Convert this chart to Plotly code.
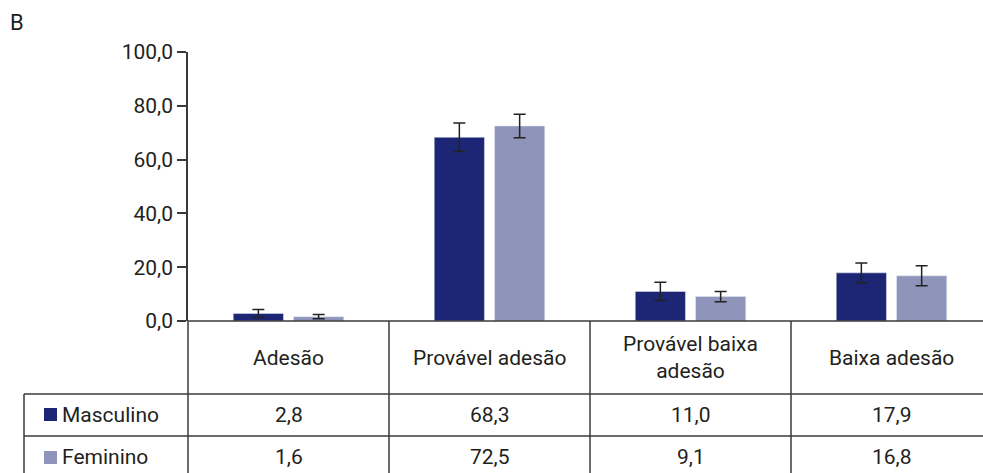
import plotly.graph_objects as go

categories = ["Adesão", "Provável adesão", "Provável baixa<br>adesão", "Baixa adesão"]
series_names = ["Masculino", "Feminino"]
masculino = [2.8, 68.3, 11.0, 17.9]
feminino = [1.6, 72.5, 9.1, 16.8]
masculino_err = [1.5, 5.3, 3.4, 3.7]
feminino_err = [0.8, 4.4, 1.9, 3.7]
y_ticks = [0, 20, 40, 60, 80, 100]

colors = ["#1c2674", "#8e94ba"]
text_color = "#231f20"
line_color = "#3a3a3a"
FONT = "Roboto"

W, H = 983, 473
ML, MR = 188, 0
MT = 52
ZERO = 321
MB = H - ZERO
plot_w = W - ML - MR
plot_h = H - MT - MB
cat_w = 201
x_range = [-0.5, -0.5 + plot_w / cat_w]


def px_x(p):
    return (p - ML) / plot_w


def px_y(p):
    return (ZERO - p) / plot_h


def xdata_to_paper(v):
    return (v - x_range[0]) / (x_range[1] - x_range[0])


fig = go.Figure()
for name, vals, errs, col in [
    (series_names[0], masculino, masculino_err, colors[0]),
    (series_names[1], feminino, feminino_err, colors[1]),
]:
    fig.add_trace(go.Bar(
        x=list(range(len(categories))), y=vals, name=name, marker_color=col,
        error_y=dict(type="data", array=errs, visible=True, color="#222222",
                     thickness=1.5, width=6),
        showlegend=False, hoverinfo="skip",
    ))

shapes = []
line = dict(color=line_color, width=1.5)
shapes.append(dict(type="line", xref="paper", yref="paper", x0=0, x1=1.02,
                   y0=0, y1=0, line=line))
for py in [394, 436]:
    shapes.append(dict(type="line", xref="paper", yref="paper", x0=px_x(24), x1=1.02,
                       y0=px_y(py), y1=px_y(py), line=line))
bottom = px_y(490)
shapes.append(dict(type="line", xref="paper", yref="paper", x0=0, x1=0,
                   y0=px_y(321), y1=bottom, line=line))
shapes.append(dict(type="line", xref="paper", yref="paper", x0=px_x(24), x1=px_x(24),
                   y0=px_y(394), y1=bottom, line=line))
for b in [0.5, 1.5, 2.5]:
    xp = xdata_to_paper(b)
    shapes.append(dict(type="line", xref="paper", yref="paper", x0=xp, x1=xp,
                       y0=px_y(321), y1=bottom, line=line))
for col, (t, b) in zip(colors, [(408, 421), (451, 464)]):
    shapes.append(dict(type="rect", xref="paper", yref="paper", x0=px_x(44), x1=px_x(57),
                       y0=px_y(b), y1=px_y(t), fillcolor=col, line=dict(width=0)))

tfont = dict(size=21, color=text_color, family=FONT)
annotations = []
for i, c in enumerate(categories):
    annotations.append(dict(x=xdata_to_paper(i), y=px_y(358), xref="paper", yref="paper",
                            xanchor="center", yanchor="middle",
                            text=c, showarrow=False, font=tfont))
for vals, py in [(masculino, 415), (feminino, 457)]:
    for i, v in enumerate(vals):
        annotations.append(dict(x=xdata_to_paper(i), y=px_y(py), xref="paper", yref="paper",
                                xanchor="center", yanchor="middle",
                                text=f"{v:.1f}".replace(".", ","), showarrow=False, font=tfont))
for name, py in zip(series_names, [415, 457]):
    annotations.append(dict(x=px_x(60), y=px_y(py), xref="paper", yref="paper",
                            xanchor="left", yanchor="middle",
                            text=name, showarrow=False, font=tfont))
annotations.append(dict(x=px_x(8), y=px_y(22), xref="paper", yref="paper",
                        xanchor="left", yanchor="middle",
                        text="B", showarrow=False, font=dict(size=22, color=text_color, family=FONT)))

fig.update_layout(
    width=W, height=H,
    margin=dict(l=ML, r=MR, t=MT, b=MB, pad=0),
    paper_bgcolor="white", plot_bgcolor="white",
    barmode="group", bargap=0.40, bargroupgap=0.167,
    separators=",.",
    font=dict(family=FONT, color=text_color),
    xaxis=dict(range=x_range, showticklabels=False, showgrid=False, zeroline=False,
               showline=False, ticks=""),
    yaxis=dict(range=[0, 100], tickvals=y_ticks, tickformat=".1f", showgrid=False,
               zeroline=False, showline=True, linecolor=line_color, linewidth=1.5,
               ticks="outside", ticklen=9, tickwidth=1.5, tickcolor=line_color,
               tickfont=dict(size=21, color=text_color, family=FONT)),
    shapes=shapes, annotations=annotations,
)

fig.write_html(
    "out.html",
    config={"displayModeBar": False},
    post_script="document.body.style.margin='0';document.body.style.overflow='hidden';",
)
